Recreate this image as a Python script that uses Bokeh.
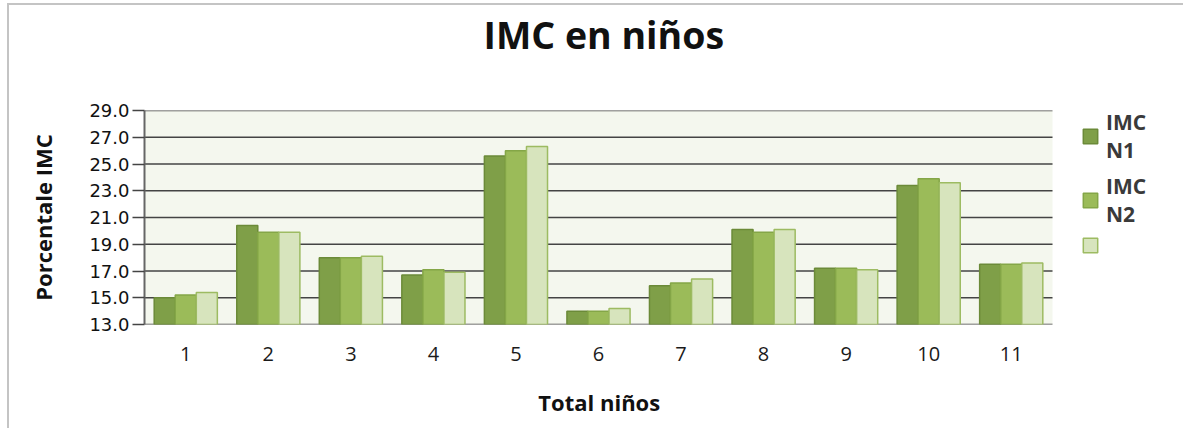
from bokeh.plotting import figure
from bokeh.models import (FixedTicker, NumeralTickFormatter, Legend, LegendItem,
                          Range1d, ColumnDataSource)
from bokeh.transform import dodge
from bokeh.embed import file_html
from bokeh.resources import INLINE

# ---- data ----
ninos = [1, 2, 3, 4, 5, 6, 7, 8, 9, 10, 11]
imc_n1 = [15.0, 20.4, 18.0, 16.7, 25.6, 14.0, 15.9, 20.1, 17.2, 23.4, 17.5]
imc_n2 = [15.2, 19.9, 18.0, 17.1, 26.0, 14.0, 16.1, 19.9, 17.2, 23.9, 17.5]
imc_n3 = [15.4, 19.9, 18.1, 16.9, 26.3, 14.2, 16.4, 20.1, 17.1, 23.6, 17.6]
series_labels = ["IMC\nN1", "IMC\nN2", " "]
y_ticks = [13, 15, 17, 19, 21, 23, 25, 27, 29]

title_text = "IMC en niños"
x_title = "Total niños"
y_title = "Porcentale IMC"

fills = ["#7f9f48", "#9bbb59", "#d7e4bd"]
lines = ["#6b8a38", "#84a647", "#9dbb62"]

# plot-area geometry (pixels): the category area is 908px wide, the frame
# extends to the canvas edge so that the legend can live to its right
area_px = 908.0
frame_px = 1041.0
x_start = ninos[0] - 0.5
x_cat_end = ninos[-1] + 0.5
x_end = x_start + (x_cat_end - x_start) * frame_px / area_px

src = ColumnDataSource(dict(x=ninos, a=imc_n1, b=imc_n2, c=imc_n3))
grid_src = ColumnDataSource(dict(y=y_ticks, x0=[x_start] * len(y_ticks),
                                 x1=[x_cat_end] * len(y_ticks)))

p = figure(width=1176, height=425, output_backend="svg", toolbar_location=None,
           x_range=Range1d(x_start, x_end), y_range=Range1d(y_ticks[0], y_ticks[-1]),
           min_border_left=135, min_border_right=0, min_border_top=105,
           min_border_bottom=106)
p.styles = {"border-top": "2px solid #c4c4c4", "border-left": "2px solid #c4c4c4",
            "margin-left": "7px", "margin-top": "3px"}

p.background_fill_color = "white"
p.border_fill_color = "white"
p.outline_line_color = None

# plot-area background and grid lines limited to the category area
p.quad(left=x_start, right=x_cat_end, bottom=y_ticks[0], top=y_ticks[-1],
       fill_color="#f4f7ee", line_color=None)
p.segment(x0="x0", x1="x1", y0="y", y1="y", source=grid_src,
          line_color="#444444", line_width=1.5)

bw = 0.255
rs = []
for col, off, f, l in zip(["a", "b", "c"], [-bw, 0.0, bw], fills, lines):
    r = p.vbar(x=dodge("x", off, range=p.x_range), top=col, bottom=y_ticks[0],
               width=bw, source=src, fill_color=f, line_color=l, line_width=1.5)
    rs.append(r)

# title (trailing empty line lifts the text within the top panel)
p.title.text = title_text + "\n"
p.title.align = "left"
p.title.offset = 339
p.title.text_font = "Open Sans"
p.title.text_font_style = "bold"
p.title.text_font_size = "37.5px"
p.title.text_color = "#111111"
p.title.standoff = 0

# y axis
p.yaxis.ticker = FixedTicker(ticks=y_ticks)
p.yaxis.formatter = NumeralTickFormatter(format="0.0")
p.yaxis.major_label_text_font = "DejaVu Sans"
p.yaxis.major_label_text_font_size = "18px"
p.yaxis.major_label_text_color = "#111111"
p.yaxis.major_tick_out = 12
p.yaxis.major_tick_in = 0
p.yaxis.minor_tick_line_color = None
p.yaxis.major_tick_line_color = "#444444"
p.yaxis.major_tick_line_width = 1.5
p.yaxis.major_label_standoff = 3
p.yaxis.axis_line_color = "#666666"
p.yaxis.axis_line_width = 2
p.yaxis.axis_label = y_title
p.yaxis.axis_label_text_font = "Open Sans"
p.yaxis.axis_label_text_font_style = "bold"
p.yaxis.axis_label_text_font_size = "22px"
p.yaxis.axis_label_text_color = "#111111"
p.yaxis.axis_label_standoff = 28

# x axis (trailing no-break spaces centre the label under the category area)
p.xaxis.ticker = FixedTicker(ticks=ninos)
p.xaxis.bounds = (x_start, x_cat_end)
p.xaxis.major_label_text_font = "Open Sans"
p.xaxis.major_label_text_font_size = "20px"
p.xaxis.major_label_text_color = "#1a1a1a"
p.xaxis.major_tick_line_color = None
p.xaxis.minor_tick_line_color = None
p.xaxis.major_label_standoff = 16
p.xaxis.axis_line_color = None
p.xaxis.axis_label = x_title + "\u00a0" * 23
p.xaxis.axis_label_text_font = "Open Sans"
p.xaxis.axis_label_text_font_style = "bold"
p.xaxis.axis_label_text_font_size = "22px"
p.xaxis.axis_label_text_color = "#111111"
p.xaxis.axis_label_standoff = 23

p.xgrid.grid_line_color = None
p.ygrid.grid_line_color = None

# legend
items = [LegendItem(label=lab, renderers=[r]) for lab, r in zip(series_labels, rs)]
legend = Legend(items=items, location=(937, 70), orientation="vertical",
                glyph_width=18, glyph_height=18, label_standoff=7,
                label_text_font="Open Sans", label_text_font_style="bold",
                label_text_font_size="21px", label_text_color="#3a3a3a",
                label_text_line_height=1.45, spacing=8, padding=0, margin=0,
                border_line_color=None, background_fill_alpha=0)
p.add_layout(legend)

open("out.html", "w").write(file_html(p, INLINE))
